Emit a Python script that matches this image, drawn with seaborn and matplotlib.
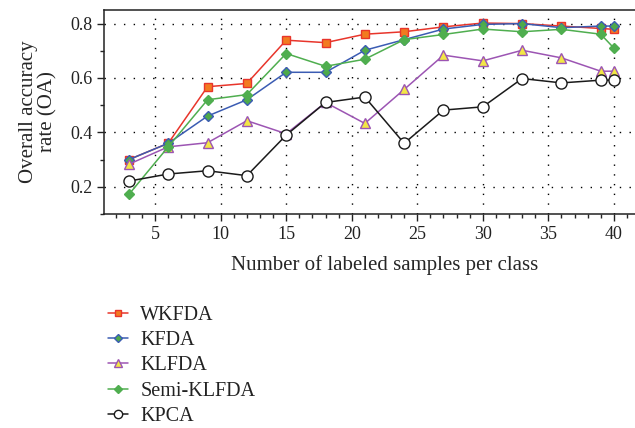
import matplotlib
matplotlib.use("Agg")
import matplotlib.pyplot as plt
from matplotlib.ticker import MultipleLocator, FormatStrFormatter
import seaborn as sns

# samples per class
samples = [3, 6, 9, 12, 15, 18, 21, 24, 27, 30, 33, 36, 39, 40]

# overall accuracy per method
wkfda = [0.30, 0.36, 0.568, 0.58, 0.739, 0.73, 0.761, 0.77, 0.788, 0.802, 0.80, 0.791, 0.782, 0.779]
kfda = [0.30, 0.36, 0.46, 0.52, 0.621, 0.621, 0.702, 0.741, 0.78, 0.797, 0.80, 0.785, 0.791, 0.791]
klfda = [0.283, 0.347, 0.362, 0.443, 0.395, 0.51, 0.433, 0.558, 0.684, 0.663, 0.702, 0.674, 0.625, 0.625]
semi_klfda = [0.172, 0.347, 0.52, 0.539, 0.69, 0.643, 0.669, 0.741, 0.76, 0.78, 0.77, 0.779, 0.761, 0.71]
kpca = [0.221, 0.247, 0.259, 0.241, 0.39, 0.51, 0.53, 0.36, 0.482, 0.494, 0.598, 0.582, 0.592, 0.592]

series = [
    ("WKFDA", wkfda, dict(color="#e8352b", marker="s", markerfacecolor="#f27b20",
                          markeredgecolor="#e8352b", markersize=6)),
    ("KFDA", kfda, dict(color="#3b5cb3", marker="D", markerfacecolor="#4ea94a",
                        markeredgecolor="#3b5cb3", markersize=5.5)),
    ("KLFDA", klfda, dict(color="#9c55b3", marker="^", markerfacecolor="#f2e646",
                          markeredgecolor="#9c55b3", markersize=7)),
    ("Semi-KLFDA", semi_klfda, dict(color="#4fae4f", marker="D", markerfacecolor="#4fae4f",
                                    markeredgecolor="#4fae4f", markersize=5.5)),
    ("KPCA", kpca, dict(color="#1a1a1a", marker="o", markerfacecolor="white",
                        markeredgecolor="#1a1a1a", markersize=8)),
]

sns.set_theme(style="ticks")
plt.rcParams["font.family"] = ["Liberation Serif", "DejaVu Serif"]
plt.rcParams["text.color"] = "#222222"

fig = plt.figure(figsize=(6.35, 4.28), dpi=100)
ax = fig.add_axes([104 / 635, 1 - 214 / 428, 561 / 635, 204 / 428])

for name, vals, style in series:
    sns.lineplot(x=samples, y=vals, ax=ax, label=name, linewidth=1.1,
                 markeredgewidth=1.0, **style)

ax.set_xlim(1.1, 43.9)
ax.set_ylim(0.1, 0.85)
ax.xaxis.set_major_locator(MultipleLocator(5))
ax.xaxis.set_minor_locator(MultipleLocator(1))
ax.yaxis.set_major_locator(MultipleLocator(0.2))
ax.yaxis.set_minor_locator(MultipleLocator(0.1))
ax.yaxis.set_major_formatter(FormatStrFormatter("%.1f"))

ax.grid(True, which="major", color="black", linestyle=(0, (1, 6)), linewidth=1.0)
ax.tick_params(which="major", direction="out", length=5, width=1, labelsize=13,
               colors="#222222")
ax.tick_params(which="minor", direction="out", length=3, width=1)
for side in ["left", "bottom", "top", "right"]:
    ax.spines[side].set_linewidth(1.1)
    ax.spines[side].set_color("#222222")

ax.set_xlabel("Number of labeled samples per class", fontsize=15, labelpad=9)
ax.set_ylabel("Overall accuracy\nrate (OA)", fontsize=15, labelpad=9, linespacing=1.0)

handles, labels = ax.get_legend_handles_labels()
ax.get_legend().remove()
fig.legend(handles, labels, loc="upper left", bbox_to_anchor=(100 / 635, 1 - 298 / 428),
           frameon=False, fontsize=14.5, handlelength=1.0, handletextpad=0.6,
           labelspacing=0.3, borderaxespad=0, markerscale=0.75)

fig.savefig("out.png", dpi=100)
